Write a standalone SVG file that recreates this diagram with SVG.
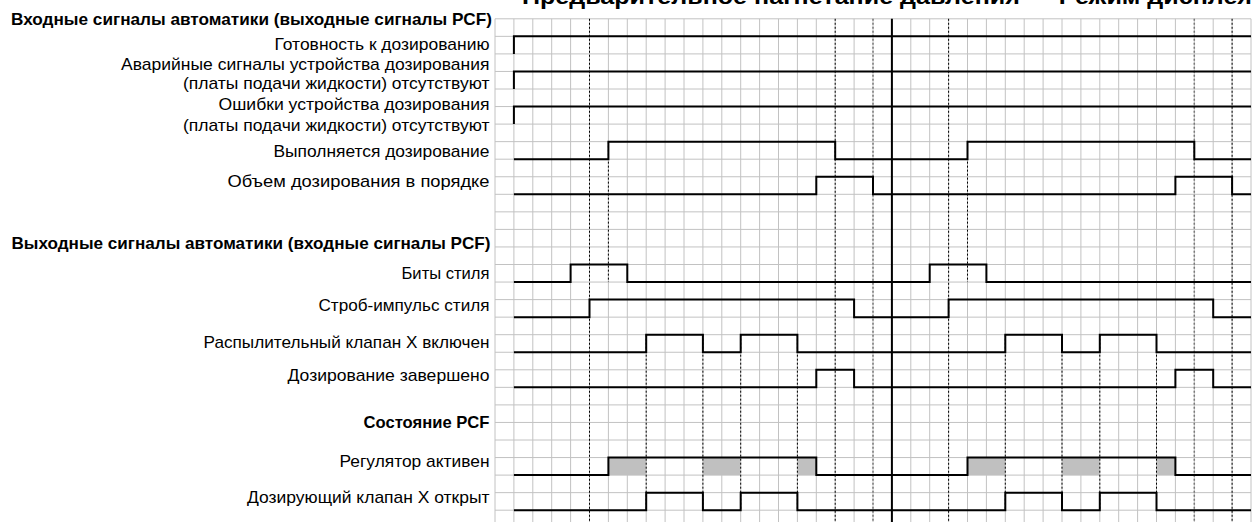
<svg xmlns="http://www.w3.org/2000/svg" width="1256" height="522" viewBox="0 0 1256 522">
<style>
text{font-family:"Liberation Sans","DejaVu Sans",sans-serif;font-size:17px;fill:#000}
.lbl{text-anchor:end}
.hdr{text-anchor:end;font-weight:bold}
.title{font-weight:bold;font-size:22px}
.grid{stroke:#c2c2c2;stroke-width:1;fill:none}
.sig{stroke:#000;stroke-width:2;fill:none;stroke-linejoin:miter}
.dot{stroke:#000;stroke-width:1;stroke-dasharray:2 2;fill:none}
.dotg{stroke:#7a7a7a;stroke-width:1.5;stroke-dasharray:2 2;fill:none}
.fillg{fill:#c0c0c0;stroke:none}
.axis{stroke:#000;stroke-width:2;fill:none}
</style>
<rect x="0" y="0" width="1256" height="522" fill="#fff"/>
<text class="title" x="522" y="4" textLength="730" lengthAdjust="spacingAndGlyphs">Предварительное нагнетание давления — Режим дисплея</text>
<g id="grid">
<path class="grid" d="M495 18.8V522M513.9 18.8V522M532.8 18.8V522M551.7 18.8V522M570.6 18.8V522M589.5 18.8V522M608.4 18.8V522M627.3 18.8V522M646.2 18.8V522M665.1 18.8V522M684 18.8V522M702.9 18.8V522M721.8 18.8V522M740.7 18.8V522M759.6 18.8V522M778.5 18.8V522M797.4 18.8V522M816.3 18.8V522M835.2 18.8V522M854.1 18.8V522M873 18.8V522M891.9 18.8V522M910.8 18.8V522M929.7 18.8V522M948.6 18.8V522M967.5 18.8V522M986.4 18.8V522M1005.3 18.8V522M1024.2 18.8V522M1043.1 18.8V522M1062 18.8V522M1080.9 18.8V522M1099.8 18.8V522M1118.7 18.8V522M1137.6 18.8V522M1156.5 18.8V522M1175.4 18.8V522M1194.3 18.8V522M1213.2 18.8V522M1232.1 18.8V522M1251 18.8V522"/>
<path class="grid" d="M495 18.8H1251M495 36.35H1251M495 53.9H1251M495 71.45H1251M495 89H1251M495 106.55H1251M495 124.1H1251M495 141.65H1251M495 159.2H1251M495 176.75H1251M495 194.3H1251M495 211.85H1251M495 229.4H1251M495 246.95H1251M495 264.5H1251M495 282.05H1251M495 299.6H1251M495 317.15H1251M495 334.7H1251M495 352.25H1251M495 369.8H1251M495 387.35H1251M495 404.9H1251M495 422.45H1251M495 440H1251M495 457.55H1251M495 475.1H1251M495 492.65H1251M495 510.2H1251"/>
</g>
<g id="shading">
<rect class="fillg" x="608.4" y="457.55" width="37.8" height="17.55"/>
<rect class="fillg" x="702.9" y="457.55" width="37.8" height="17.55"/>
<rect class="fillg" x="797.4" y="457.55" width="18.9" height="17.55"/>
<rect class="fillg" x="967.5" y="457.55" width="37.8" height="17.55"/>
<rect class="fillg" x="1062" y="457.55" width="37.8" height="17.55"/>
<rect class="fillg" x="1156.5" y="457.55" width="18.9" height="17.55"/>
</g>
<g id="connectors">
<path class="dot" d="M589.5 18.8V522M835.2 18.8V522M948.6 18.8V522M1232.1 18.8V522"/>
<path class="dotg" d="M873 18.8V522M1194.3 18.8V522"/>
<path class="dot" d="M608.4 141.65V282.05M967.5 141.65V282.05"/>
<path class="dot" d="M646.2 334.7V510.2M702.9 334.7V510.2M740.7 334.7V510.2M797.4 334.7V510.2M1005.3 334.7V510.2M1062 334.7V510.2M1099.8 334.7V510.2M1156.5 334.7V510.2"/>
<path class="axis" d="M891.9 18.8V522"/>
</g>
<g id="hdr-inputs">
<text class="hdr" x="492" y="24.5" textLength="481" lengthAdjust="spacingAndGlyphs">Входные сигналы автоматики (выходные сигналы PCF)</text>
</g>
<g id="sig-ready">
<text class="lbl" x="489.5" y="50" textLength="215" lengthAdjust="spacingAndGlyphs">Готовность к дозированию</text>
<path class="sig" d="M513.9 53.9V36.35H1251"/>
</g>
<g id="sig-alarms">
<text class="lbl" x="489.5" y="69.5" textLength="368.5" lengthAdjust="spacingAndGlyphs">Аварийные сигналы устройства дозирования</text>
<text class="lbl" x="489.5" y="89" textLength="306.5" lengthAdjust="spacingAndGlyphs">(платы подачи жидкости) отсутствуют</text>
<path class="sig" d="M513.9 89V71.45H1251"/>
</g>
<g id="sig-errors">
<text class="lbl" x="489.5" y="110" textLength="271" lengthAdjust="spacingAndGlyphs">Ошибки устройства дозирования</text>
<text class="lbl" x="489.5" y="131" textLength="306.5" lengthAdjust="spacingAndGlyphs">(платы подачи жидкости) отсутствуют</text>
<path class="sig" d="M513.9 124.1V106.55H1251"/>
</g>
<g id="sig-dosing">
<text class="lbl" x="489.5" y="157" textLength="216" lengthAdjust="spacingAndGlyphs">Выполняется дозирование</text>
<path class="sig" d="M513.9 159.2H608.4V141.65H835.2V159.2H967.5V141.65H1194.3V159.2H1251"/>
</g>
<g id="sig-volume">
<text class="lbl" x="489.5" y="186.5" textLength="262" lengthAdjust="spacingAndGlyphs">Объем дозирования в порядке</text>
<path class="sig" d="M513.9 194.3H816.3V176.75H873V194.3H1175.4V176.75H1232.1V194.3H1251"/>
</g>
<g id="hdr-outputs">
<text class="hdr" x="490.5" y="248.5" textLength="479" lengthAdjust="spacingAndGlyphs">Выходные сигналы автоматики (входные сигналы PCF)</text>
</g>
<g id="sig-bits">
<text class="lbl" x="489.5" y="279" textLength="88" lengthAdjust="spacingAndGlyphs">Биты стиля</text>
<path class="sig" d="M513.9 282.05H570.6V264.5H627.3V282.05H929.7V264.5H986.4V282.05H1251"/>
</g>
<g id="sig-strobe">
<text class="lbl" x="489.5" y="311" textLength="171" lengthAdjust="spacingAndGlyphs">Строб-импульс стиля</text>
<path class="sig" d="M513.9 317.15H589.5V299.6H854.1V317.15H948.6V299.6H1213.2V317.15H1251"/>
</g>
<g id="sig-spray">
<text class="lbl" x="489.5" y="347.5" textLength="286" lengthAdjust="spacingAndGlyphs">Распылительный клапан X включен</text>
<path class="sig" d="M513.9 352.25H646.2V334.7H702.9V352.25H740.7V334.7H797.4V352.25H1005.3V334.7H1062V352.25H1099.8V334.7H1156.5V352.25H1251"/>
</g>
<g id="sig-done">
<text class="lbl" x="489.5" y="381" textLength="202" lengthAdjust="spacingAndGlyphs">Дозирование завершено</text>
<path class="sig" d="M513.9 387.35H816.3V369.8H854.1V387.35H1175.4V369.8H1213.2V387.35H1251"/>
</g>
<g id="hdr-state">
<text class="hdr" x="489.5" y="428" textLength="126" lengthAdjust="spacingAndGlyphs">Состояние PCF</text>
</g>
<g id="sig-regulator">
<text class="lbl" x="489.5" y="467" textLength="150" lengthAdjust="spacingAndGlyphs">Регулятор активен</text>
<path class="sig" d="M513.9 475.1H608.4V457.55H816.3V475.1H967.5V457.55H1175.4V475.1H1251"/>
</g>
<g id="sig-valve">
<text class="lbl" x="489.5" y="503" textLength="242.5" lengthAdjust="spacingAndGlyphs">Дозирующий клапан X открыт</text>
<path class="sig" d="M513.9 510.2H646.2V492.65H702.9V510.2H740.7V492.65H797.4V510.2H1005.3V492.65H1062V510.2H1099.8V492.65H1156.5V510.2H1251"/>
</g>
</svg>
